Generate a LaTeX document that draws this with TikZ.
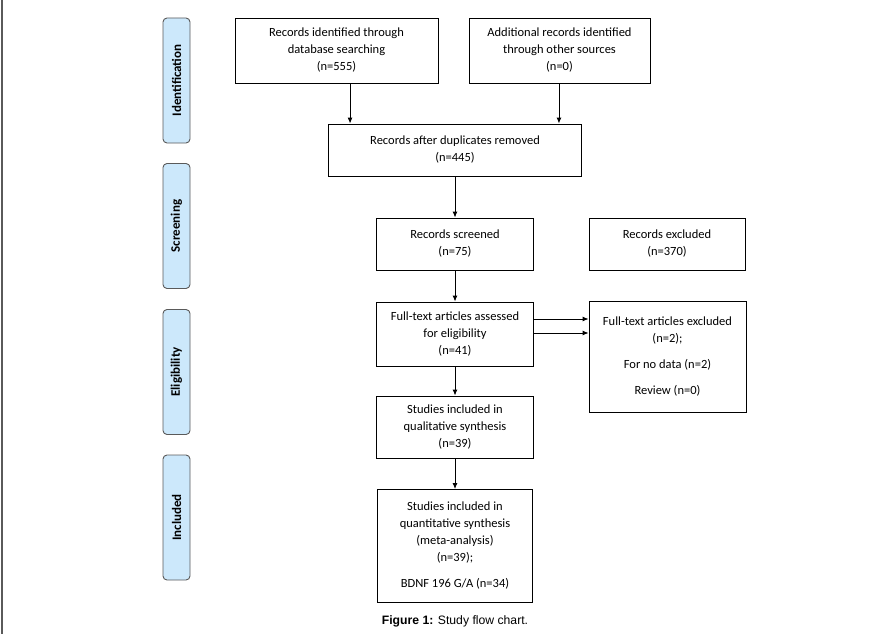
\documentclass[tikz,border=0pt]{standalone}
\usepackage{fontspec}
\setmainfont{Carlito}
\newfontfamily\capfont{Liberation Sans}
\usepackage{xcolor}
\usetikzlibrary{arrows,arrows.meta}
\tikzset{>={Latex[length=6pt,width=5pt]}}
\definecolor{stagefill}{HTML}{CCE8FB}
\definecolor{stageline}{HTML}{5A5A5A}
\tikzset{
    stage/.style={draw=stageline, fill=stagefill, line width=0.9pt, rounded corners=4pt,
        minimum width=27pt, minimum height=125pt, inner sep=0pt},
    stagetext/.style={rotate=90, font=\fontsize{13}{14}\selectfont\bfseries},
    rec/.style={draw, line width=0.9pt, align=center, inner sep=0pt,
        font=\fontsize{12.5}{17}\selectfont}
}

\begin{document}
\begin{tikzpicture}[x=1pt, y=-1pt]
    \useasboundingbox (0,0) rectangle (872,634);
    \draw[stageline, line width=1.2pt] (2,0) -- (2,634);

    % stages on the left
    \node[stage] (ident) at (176.5, 80.5) {};
    \node[stagetext] at (ident) {Identification};
    \node[stage] (screen) at (176.5, 226) {};
    \node[stagetext] at (screen) {Screening};
    \node[stage] (elig) at (176.5, 372) {};
    \node[stagetext] at (elig) {Eligibility};
    \node[stage] (incl) at (176.5, 517.5) {};
    \node[stagetext] at (incl) {Included};

    % records
    \node[rec, minimum width=203pt, minimum height=65pt] (dbase) at (336.5, 50.5)
        {Records identified through\\ database searching\\ (n=555)};
    \node[rec, minimum width=181pt, minimum height=65pt] (other) at (559.5, 50.5)
        {Additional records identified\\ through other sources\\ (n=0)};
    \node[rec, minimum width=253pt, minimum height=52pt] (dup) at (455, 150)
        {Records after duplicates removed\\ (n=445)};
    \node[rec, minimum width=157pt, minimum height=52pt] (screened) at (455, 244)
        {Records screened\\ (n=75)};
    \node[rec, minimum width=156pt, minimum height=52pt] (excl) at (667, 244)
        {Records excluded\\ (n=370)};
    \node[rec, minimum width=157pt, minimum height=64pt] (fulltext) at (455, 334)
        {Full-text articles assessed\\ for eligibility\\ (n=41)};
    \node[rec, minimum width=157pt, minimum height=111pt] (ftexcl) at (667.5, 357)
        {Full-text articles excluded\\ (n=2);\\[9pt] For no data (n=2)\\[9pt] Review (n=0)};
    \node[rec, minimum width=157pt, minimum height=62pt] (qual) at (455, 427)
        {Studies included in\\ qualitative synthesis\\ (n=39)};
    \node[rec, minimum width=155pt, minimum height=113pt] (quant) at (455, 546)
        {Studies included in\\ quantitative synthesis\\ (meta-analysis)\\ (n=39);\\[9pt] BDNF 196 G/A (n=34)};

    \node (cap) at (455, 621) {\capfont\fontsize{12.2}{13}\selectfont\textbf{Figure 1:} Study flow chart.};

    % arrows
    \coordinate (inA) at ([xshift=22pt]dup.north west);
    \coordinate (inB) at ([xshift=-23pt]dup.north east);
    \draw[->, line width=0.9pt] (dbase.south -| inA) -- (inA);
    \draw[->, line width=0.9pt] (other.south -| inB) -- (inB);
    \draw[->, line width=0.9pt] (dup) -- (screened);
    \draw[->, line width=0.9pt] (screened) -- (fulltext);
    \draw[->, line width=0.9pt] ([yshift=15pt]fulltext.east) -- ([yshift=15pt]fulltext.east -| ftexcl.west);
    \draw[->, line width=0.9pt] ([yshift=1pt]fulltext.east) -- ([yshift=1pt]fulltext.east -| ftexcl.west);
    \draw[->, line width=0.9pt] (fulltext) -- (qual);
    \draw[->, line width=0.9pt] (qual) -- (quant);
\end{tikzpicture}
\end{document}
